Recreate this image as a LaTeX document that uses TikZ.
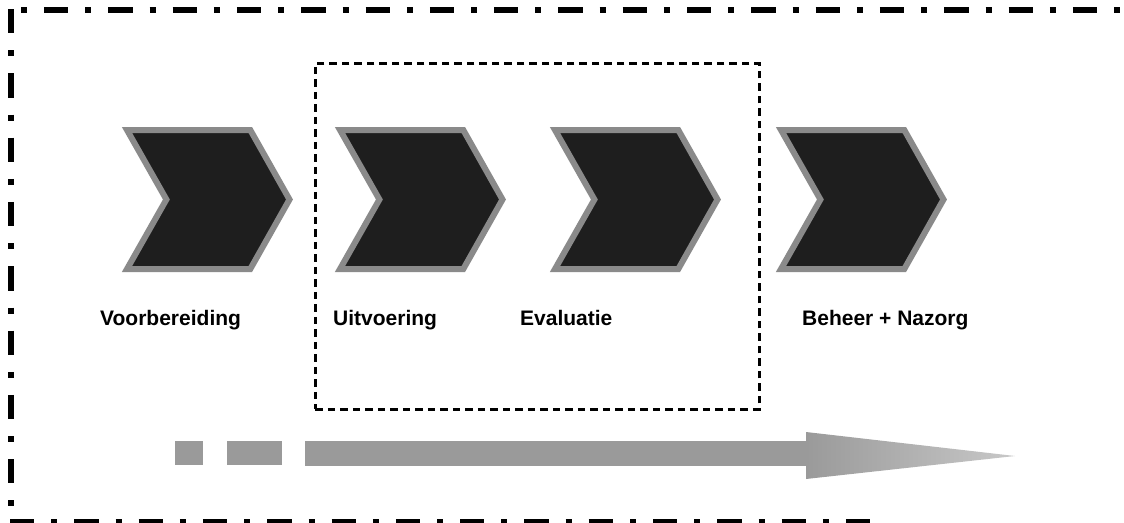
\documentclass[tikz,border=0pt]{standalone}
\usepackage{fontspec}
\setmainfont{Liberation Sans}
\definecolor{chevdark}{HTML}{1E1E1E}
\definecolor{chevgray}{HTML}{8A8A8A}
\definecolor{arrowgray}{HTML}{9A9A9A}
\definecolor{arrowlight}{HTML}{C8C8C8}
\newcommand{\chevronshape}[2]{%
  \path[chev] (#2+5,130) -- (#2+128.3,130) -- (#2+167.5,199.5) -- (#2+128.3,269) -- (#2+5,269) -- (#2+44.4,199.5) -- cycle;
  \coordinate (#1) at (#2+86,199.5);}
\begin{document}
\begin{tikzpicture}[x=1pt,y=-1pt,
  frameA/.style={line width=6pt, dash pattern=on 6pt off 17pt on 24.3pt off 17pt},
  frameB/.style={line width=6pt, dash pattern=on 24.3pt off 17pt on 6pt off 17pt},
  chev/.style={fill=chevdark, draw=chevgray, line width=6pt, line join=miter},
  phase/.style={draw=black, line width=2.8pt, dash pattern=on 7.5pt off 5pt},
  lbl/.style={anchor=base west, inner sep=0pt, font=\bfseries\fontsize{21}{25}\selectfont},
  bar/.style={fill=arrowgray}]
\useasboundingbox (0,0) rectangle (1124,522);
% outer dash-dot frame (open on the right)
\coordinate (ftl) at (21,10);
\coordinate (ftr) at (1130,10);
\coordinate (flt) at (10.5,9);
\coordinate (flb) at (10.5,516);
\coordinate (fbl) at (10,522);
\coordinate (fbr) at (880,522);
\draw[frameA] (ftl) -- (ftr);
\draw[frameB] (flt) -- (flb);
\draw[frameB] (fbl) -- (fbr);
% dashed box around execution phases
\node[phase, inner sep=0pt, minimum width=444pt, minimum height=346pt, anchor=north west] (box) at (314,62) {};
% chevrons
\chevronshape{c1}{122}
\chevronshape{c2}{335}
\chevronshape{c3}{550}
\chevronshape{c4}{776}
% labels
\node[lbl] (l1) at (100,325) {Voorbereiding};
\node[lbl] (l2) at (333,325) {Uitvoering};
\node[lbl] (l3) at (520,325) {Evaluatie};
\node[lbl] (l4) at (802,325) {Beheer + Nazorg};
% time arrow
\fill[bar] (175,441) rectangle (203,465);
\fill[bar] (227,441) rectangle (282,465);
\fill[bar] (305,441) rectangle (807,466);
\shade[left color=arrowgray, right color=arrowlight] (806,432) -- (1015,456) -- (806,479) -- cycle;
\end{tikzpicture}
\end{document}
